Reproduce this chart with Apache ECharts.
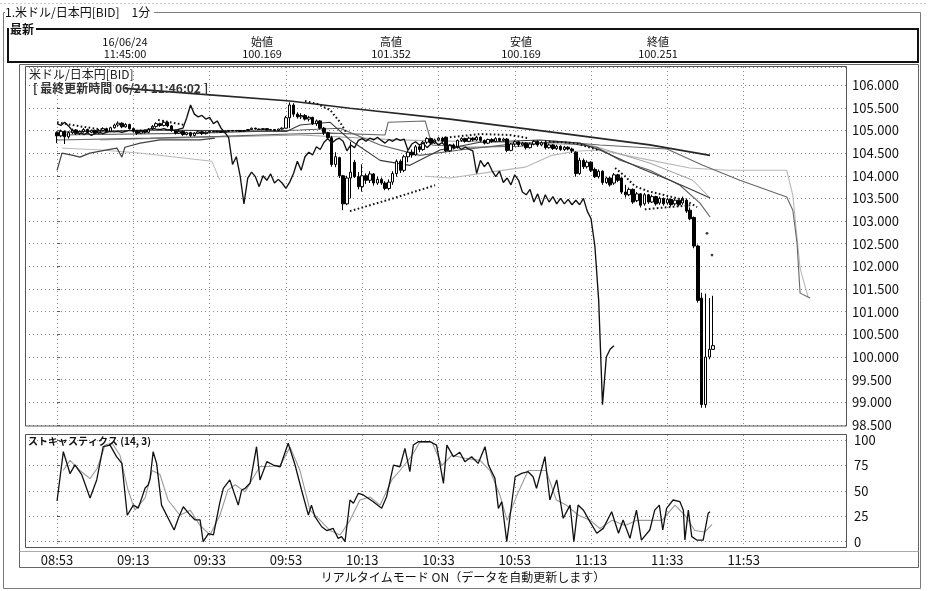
<!DOCTYPE html>
<html><head><meta charset="utf-8">
<script src="https://cdn.jsdelivr.net/npm/echarts@6/dist/echarts.min.js"></script>
<style>html,body{margin:0;padding:0;background:#fff}#c{width:928px;height:591px}</style>
</head><body><div id="c"></div>
<script>
// x values = minutes since 08:53
const timeTicks = [0,20,40,60,80,100,120,140,160,180];
const timeLabels = ['08:53','09:13','09:33','09:53','10:13','10:33','10:53','11:13','11:33','11:53'];
const headerTop = ['16/06/24','始値','高値','安値','終値'];
const headerBottom = ['11:45:00','100.169','101.352','100.169','100.251'];

// one candle per minute from 08:53: [open, close, low, high]
const candles = [
[104.95,104.88,104.72,104.98],[104.88,104.98,104.85,105.02],[104.98,104.86,104.70,105.00],[104.86,104.95,104.82,104.98],
[104.95,105.01,104.92,105.04],[105.01,104.93,104.90,105.03],[104.93,104.98,104.90,105.00],[104.98,105.02,104.95,105.05],
[105.02,104.96,104.93,105.04],[104.96,105.00,104.94,105.02],[105.00,104.94,104.92,105.02],[104.94,105.00,104.92,105.03],
[105.00,105.04,104.98,105.07],[105.04,104.98,104.96,105.06],[104.98,105.06,104.96,105.08],[105.06,105.12,105.04,105.15],
[105.12,105.16,105.08,105.20],[105.16,105.08,105.05,105.18],[105.08,105.13,105.06,105.16],[105.13,105.04,105.02,105.15],
[105.04,104.98,104.95,105.06],[104.98,104.94,104.90,105.00],[104.94,105.00,104.92,105.02],[105.00,104.96,104.93,105.02],
[104.96,105.03,104.94,105.05],[105.03,105.09,105.01,105.12],[105.09,105.15,105.06,105.18],[105.15,105.11,105.08,105.17],
[105.11,105.18,105.09,105.22],[105.18,105.10,105.07,105.20],[105.10,105.00,104.97,105.12],[105.00,104.94,104.91,105.02],
[104.94,104.98,104.92,105.01],[104.98,104.91,104.88,105.00],[104.91,104.95,104.89,104.97],[104.95,104.89,104.86,104.97],
[104.89,104.94,104.87,104.96],[104.94,104.97,104.92,105.00],[104.97,104.93,104.90,104.99],[104.93,104.96,104.91,104.98],
[104.96,104.98,104.94,105.00],[104.98,104.97,104.96,104.99],[104.97,104.98,104.96,104.99],[104.98,104.96,104.95,104.99],
[104.96,104.98,104.95,104.99],[104.98,105.00,104.97,105.01],[105.00,104.99,104.98,105.01],[104.99,105.00,104.98,105.01],
[105.00,104.98,104.97,105.01],[104.98,105.00,104.97,105.01],[105.00,105.02,104.99,105.03],[105.02,105.05,105.01,105.06],
[105.05,105.03,105.02,105.06],[105.03,105.02,105.01,105.04],[105.02,105.04,105.01,105.05],[105.04,105.01,105.00,105.05],
[105.01,105.02,105.00,105.03],[105.02,105.00,104.99,105.03],[105.00,105.03,104.99,105.04],[105.03,105.05,105.02,105.07],
[105.05,105.28,105.04,105.32],[105.28,105.56,105.05,105.62],[105.56,105.36,105.30,105.60],[105.36,105.30,105.26,105.40],
[105.30,105.33,105.25,105.38],[105.33,105.25,105.22,105.36],[105.25,105.29,105.20,105.32],[105.29,105.15,105.12,105.30],
[105.15,105.21,105.10,105.24],[105.21,105.05,105.02,105.23],[105.05,104.95,104.90,105.08],[104.95,104.84,104.80,104.97],
[104.84,104.25,104.20,104.88],[104.25,104.42,104.19,104.52],[104.40,104.00,103.95,104.42],[104.00,103.38,103.24,104.02],
[103.38,103.95,103.35,104.00],[103.95,104.08,103.50,104.75],[104.30,103.98,103.95,104.35],[103.98,103.76,103.70,104.08],
[103.76,104.00,103.65,104.25],[104.00,103.90,103.82,104.05],[103.90,104.04,103.84,104.10],[104.04,103.84,103.78,104.06],
[103.84,103.92,103.80,103.98],[103.92,103.84,103.80,103.96],[103.84,103.72,103.68,103.88],[103.72,103.86,103.68,103.92],
[103.86,104.05,103.80,104.10],[104.05,104.32,103.98,104.36],[104.32,104.12,104.06,104.36],[104.12,104.42,104.08,104.46],
[104.42,104.52,104.30,104.56],[104.52,104.46,104.40,104.58],[104.46,104.64,104.44,104.68],[104.64,104.58,104.52,104.68],
[104.58,104.74,104.55,104.77],[104.74,104.82,104.70,104.85],[104.82,104.72,104.68,104.84],[104.72,104.79,104.70,104.82],
[104.79,104.83,104.76,104.86],[104.83,104.76,104.73,104.86],[104.85,104.55,104.52,104.87],[104.55,104.68,104.52,104.70],
[104.68,104.62,104.58,104.71],[104.62,104.78,104.60,104.80],[104.78,104.82,104.75,104.85],[104.82,104.76,104.73,104.84],
[104.76,104.83,104.74,104.86],[104.83,104.79,104.76,104.85],[104.79,104.85,104.77,104.88],[104.85,104.78,104.75,104.87],
[104.78,104.72,104.69,104.80],[104.72,104.80,104.70,104.82],[104.80,104.76,104.73,104.83],[104.76,104.82,104.74,104.85],
[104.82,104.78,104.75,104.84],[104.78,104.81,104.76,104.84],[104.81,104.56,104.52,104.83],[104.56,104.70,104.54,104.72],
[104.70,104.75,104.66,104.78],[104.75,104.68,104.64,104.77],[104.68,104.72,104.65,104.75],[104.72,104.62,104.58,104.74],
[104.62,104.70,104.60,104.73],[104.70,104.76,104.67,104.79],[104.76,104.68,104.64,104.78],[104.68,104.73,104.65,104.76],
[104.73,104.62,104.58,104.75],[104.62,104.68,104.60,104.71],[104.68,104.60,104.57,104.70],[104.60,104.65,104.57,104.68],
[104.65,104.58,104.55,104.67],[104.58,104.63,104.55,104.66],[104.63,104.59,104.56,104.65],[104.59,104.55,104.50,104.62],
[104.52,104.05,103.98,104.54],[104.05,104.34,104.02,104.40],[104.34,104.20,104.15,104.38],[104.20,104.30,104.16,104.34],
[104.30,104.12,104.08,104.32],[104.14,103.98,103.95,104.18],[103.98,104.10,103.94,104.14],[104.10,103.85,103.80,104.12],
[103.85,103.95,103.82,103.98],[103.95,103.80,103.76,103.98],[103.84,104.02,103.80,104.06],[104.02,103.90,103.86,104.04],
[103.95,103.64,103.60,103.97],[103.64,103.58,103.52,103.80],[103.58,103.70,103.55,103.74],[103.70,103.42,103.38,103.72],
[103.45,103.60,103.42,103.64],[103.60,103.35,103.30,103.62],[103.38,103.58,103.34,103.62],[103.58,103.42,103.38,103.60],
[103.42,103.54,103.40,103.58],[103.54,103.38,103.34,103.56],[103.40,103.50,103.36,103.54],[103.50,103.38,103.34,103.52],
[103.40,103.48,103.36,103.52],[103.48,103.36,103.32,103.50],[103.38,103.46,103.34,103.50],[103.46,103.36,103.32,103.48],
[103.40,103.50,103.36,103.54],[103.46,103.22,103.18,103.50],[103.24,103.05,103.02,103.30],[103.08,102.45,102.40,103.10],
[102.45,101.25,101.20,102.48],[101.30,98.95,98.88,101.42],[98.95,100.00,98.88,101.40],[100.00,100.17,99.95,101.30],
[100.169,100.251,100.169,101.352]
];
const laggingShift = 26;

// indicator lines: [minute, price]
const maLong = [[17.8,105.93],[37.5,105.80],[61.1,105.65],[76.8,105.49],[103.0,105.25],[131.8,104.94],[155.4,104.68],[171.2,104.45]];
const spanA = [[0,104.79],[24.4,104.83],[42.7,104.87],[61.1,104.92],[71.6,104.94],[86.0,104.90],[86.8,105.18],[96.5,105.21],[98.3,104.68],[108.3,104.63],[121.4,104.65],[130.5,104.76],[142.3,104.68],[159.9,104.59],[169.3,104.23],[179.0,103.90],[191.3,103.53],[192.9,103.24],[194.0,102.51],[194.8,101.41],[197.4,101.30]];
const spanBLeft = [[1.3,104.61],[11.3,104.57],[21.8,104.50],[40.6,104.32],[42.7,103.90]];
const spanBRight = [[96.5,103.99],[103.0,103.95],[113.5,104.08],[122.7,104.19],[129.7,104.45],[135.8,104.54],[142.3,104.57],[152.8,104.39],[165.9,104.17],[175.6,104.12],[191.3,104.12],[192.9,103.57],[194.8,101.96],[196.9,101.32]];
const darkLeft = [[0,104.12],[1.3,104.50],[4.2,104.45],[6.0,104.41],[8.6,104.50],[13.1,104.57],[15.7,104.61],[17.0,104.41],[17.8,104.63],[21.8,104.72],[27.0,104.79],[37.5,104.79],[41.4,104.83]];
const ma1 = [[0,104.96],[24.4,105.01],[60.3,104.98],[63.7,105.12],[71.6,105.18],[76.8,104.79],[84.7,104.34],[92.5,104.23],[100.4,104.57],[110.9,104.74],[126.6,104.79],[137.1,104.72],[142.3,104.57],[152.8,104.17],[160.7,103.90],[166.7,103.68],[171.2,103.51]];
const ma2 = [[0,104.90],[37.5,104.94],[63.7,105.01],[74.2,105.05],[84.7,104.68],[95.1,104.45],[105.6,104.57],[121.4,104.72],[131.8,104.74],[141.5,104.63],[147.6,104.34],[155.4,104.12],[163.3,103.79],[168.5,103.40],[171.2,103.09]];
const ma3 = [[11.3,104.79],[63.7,104.90],[89.9,104.79],[116.1,104.74],[139.7,104.68],[155.4,104.28],[166.7,103.90],[171.2,103.51]];
const sarSegments = [
 [[0,105.18],[6.0,105.09],[12.6,105.01]],
 [[26.5,105.23],[33.6,105.12]],
 [[65.0,105.65],[68.4,105.58],[71.6,105.45],[74.2,105.18],[75.8,104.96]],
 [[76.8,103.22],[87.3,103.48],[99.1,103.79]],
 [[103.0,104.85],[110.9,104.92],[118.7,104.90],[123.5,104.83]],
 [[127.9,104.76],[135.8,104.72],[141.8,104.57]],
 [[146.3,104.17],[148.9,103.99],[151.5,103.77],[154.9,103.66],[159.4,103.57],[164.6,103.46],[167.8,103.31]],
 [[154.1,103.26],[160.7,103.31],[166.4,103.35]]
];
const sarDots = [[170.4,102.73],[171.7,102.25]];

// stochastics (14,3): [minute, value]
const stochK = [[0,40],[1.65,88.5],[3.4,67],[4.7,75.5],[6.5,65.6],[8.65,43],[10.4,60.7],[12.1,93.4],[13.9,95],[15.6,83.6],[17.0,77],[18.4,26],[20.0,36],[21.3,33],[23.1,52.8],[23.9,55.7],[24.4,62],[25.2,88.5],[26.1,77],[27.4,36],[30.7,11.5],[31.8,23],[33.1,34.4],[34.9,26.2],[36.2,21.4],[37.5,21.4],[38.3,0],[39.7,8],[41.0,6.6],[42.7,39],[43.6,52.5],[45.3,60.7],[47.5,36],[48.4,50.8],[49.3,52.5],[50.6,57.4],[52.3,93.4],[53.2,60.7],[55.0,78.7],[56.7,75.4],[58.5,73.7],[60.6,96.8],[62.4,75.4],[64.1,50.8],[65.9,26.2],[66.7,36],[67.6,24.6],[69.4,14.7],[70.7,11],[72.4,13],[73.7,3.3],[74.6,5],[75.5,0],[76.8,41],[77.7,37.8],[79.0,47.6],[80.3,46],[82.9,39.3],[85.1,32.8],[86.4,44.2],[88.2,75.4],[89.9,73.7],[91.2,91.8],[92.5,68.8],[93.4,95],[94.7,98.3],[97.8,98.3],[99.5,95],[101.3,57.4],[102.2,95],[103.9,83.6],[105.6,88],[106.9,78.7],[108.7,83.6],[110.4,77],[112.2,93.4],[113.1,75.4],[114.8,62.3],[115.7,32.8],[116.6,39.3],[117.9,0],[120.1,63.9],[121.8,67.2],[123.5,68.8],[124.8,63.9],[125.7,52.5],[127.9,83.6],[129.2,41],[131.0,60.7],[132.7,23],[134.5,36],[135.5,0],[136.6,36],[138.0,31],[139.7,19.7],[141.5,8.3],[143.2,13.1],[145.4,29.5],[147.2,8.3],[148.4,21.4],[150.2,3.3],[151.9,31],[153.2,1.6],[155.4,11.5],[156.7,31],[157.9,36],[158.8,11.5],[159.8,32.8],[161.5,41],[163.3,39.3],[164.2,31],[164.6,1.6],[165.5,31],[166.4,5],[167.7,1.6],[169.4,1.6],[170.7,27.9],[171.2,29.5]];
const stochD = [[1.6,70],[3.4,80],[6.0,70],[8.65,62],[10.5,72],[12.6,95],[14.4,97],[16.5,85],[18.6,51],[20.4,31],[23.1,43],[24.9,70],[27.0,66],[29.1,41],[32.2,26],[34.9,31],[37.5,16],[40.1,6.6],[42.7,26],[44.8,51],[46.7,56],[49.3,49],[51.1,61],[53.2,74],[55.8,74],[58.5,75],[61.1,93],[63.7,70],[66.3,31],[69.0,21],[71.6,11],[74.2,6.6],[76.8,21],[79.4,41],[82.0,44],[84.7,36],[87.8,61],[89.9,70],[93.1,85],[95.1,98],[98.3,98],[100.9,75],[103.5,85],[106.9,82],[110.9,80],[113.5,70],[116.1,46],[118.0,21],[120.6,46],[123.5,70],[125.8,70],[128.2,70],[130.9,41],[133.5,36],[136.7,26],[139.8,21],[142.3,13],[145.5,21],[148.9,16],[152.0,21],[155.4,21],[158.6,21],[162.0,36],[164.6,26],[167.2,11],[169.8,9.5],[171.7,17]];

const FONT = '"Noto Sans CJK JP", "DejaVu Sans", sans-serif';
const candleData = candles.map((c, i) => [i, c[0], c[1], c[2], c[3]]);
const lagging = candles.map((c, i) => [i - laggingShift, c[1]]).filter(p => p[0] >= 0);

const gridLine = {show: true, lineStyle: {color: '#8a8a8a', width: 1, type: [1, 3]}};
function xAxis(gi, labels, split) {
  return {
    type: 'value', gridIndex: gi, min: -8.4, max: 207.1,
    axisLine: {show: false},
    axisTick: {show: false, customValues: timeTicks},
    axisLabel: {show: labels, customValues: timeTicks, margin: 6, fontSize: 13, color: '#111', fontFamily: FONT,
      formatter: v => { const k = timeTicks.indexOf(v); return k >= 0 ? timeLabels[k] : ''; }},
    splitLine: split ? gridLine : {show: false}
  };
}
function line(data, color, width, z, extra) {
  return Object.assign({type: 'line', xAxisIndex: 0, yAxisIndex: 0, data, showSymbol: false, symbol: 'none',
    lineStyle: {color, width}, z: z, silent: true}, extra || {});
}

const series = [
  line(spanBLeft, '#b8b8b8', 1, 2),
  line(spanBRight, '#b8b8b8', 1.1, 2),
  line(ma3, '#a0a0a0', 1, 2),
  line(spanA, '#666', 1.1, 2),
  line(ma2, '#606060', 1.1, 2),
  line(ma1, '#383838', 1.1, 2),
  line(darkLeft, '#404040', 1.2, 2),
  line(maLong, '#262626', 1.7, 2),
  {type: 'candlestick', xAxisIndex: 0, yAxisIndex: 0, data: candleData, encode: {x: 0, y: [1, 2, 3, 4]},
   barWidth: 3, z: 3, silent: true,
   itemStyle: {color: '#fff', color0: '#000', borderColor: '#000', borderColor0: '#000', borderWidth: 1}},
  line(lagging, '#111', 1.35, 4),
];
sarSegments.forEach(seg => series.push(line(seg, '#111', 2, 4, {lineStyle: {color: '#111', width: 2, type: [1.6, 2.4]}})));
series.push({type: 'scatter', xAxisIndex: 0, yAxisIndex: 0, data: sarDots, symbolSize: 2.8, itemStyle: {color: '#111'}, z: 4, silent: true});
series.push({type: 'line', xAxisIndex: 1, yAxisIndex: 1, data: stochD, showSymbol: false, symbol: 'none', clip: false, lineStyle: {color: '#9a9a9a', width: 1.1}, z: 2, silent: true});
series.push({type: 'line', xAxisIndex: 1, yAxisIndex: 1, data: stochK, showSymbol: false, symbol: 'none', clip: false, lineStyle: {color: '#111', width: 1.3}, z: 3, silent: true});

const graphic = [
  {type: 'line', shape: {x1: 0, y1: 3.5, x2: 928, y2: 3.5}, style: {stroke: '#c8c8c8', lineWidth: 1, lineDash: [2, 2]}, z: 0},
  {type: 'rect', shape: {x: 3.5, y: 12.5, width: 917, height: 576}, style: {fill: null, stroke: '#7a7a7a', lineWidth: 1}, z: 0},
  {type: 'text', x: 5, y: 12, style: {text: '1.米ドル/日本円[BID]　1分', font: '12px ' + FONT, fill: '#111', verticalAlign: 'middle', backgroundColor: '#fff', padding: [0, 4, 0, 0]}, z: 1},
  {type: 'rect', shape: {x: 8, y: 29, width: 910, height: 33}, style: {fill: null, stroke: '#111', lineWidth: 2}, z: 0},
  {type: 'text', x: 9, y: 29, style: {text: '最新', font: 'bold 12px ' + FONT, fill: '#111', verticalAlign: 'middle', backgroundColor: '#fff', padding: [0, 2, 0, 1]}, z: 1},
  {type: 'rect', shape: {x: 19.5, y: 64.5, width: 899, height: 503}, style: {fill: null, stroke: '#666', lineWidth: 1}, z: 0},
  {type: 'rect', shape: {x: 25.5, y: 66.5, width: 821, height: 359.5}, style: {fill: null, stroke: '#555', lineWidth: 1}, z: 5},
  {type: 'rect', shape: {x: 25.5, y: 434.5, width: 821, height: 113}, style: {fill: null, stroke: '#555', lineWidth: 1}, z: 5},
  {type: 'line', shape: {x1: 19.5, y1: 551.5, x2: 918.5, y2: 551.5}, style: {stroke: '#aaa', lineWidth: 1}, z: 0},
  {type: 'text', x: 29, y: 74, style: {text: '米ドル/日本円[BID]', font: '12px ' + FONT, fill: '#222', verticalAlign: 'middle'}, z: 6},
  {type: 'text', x: 33, y: 88, style: {text: '[ 最終更新時間 06/24 11:46:02 ]', font: 'bold 12px ' + FONT, fill: '#333', verticalAlign: 'middle'}, z: 6},
  {type: 'text', x: 28, y: 441, style: {text: 'ストキャスティクス (14, 3)', font: 'bold 10px ' + FONT, fill: '#111', verticalAlign: 'middle'}, z: 6},
  {type: 'text', x: 463, y: 577, style: {text: 'リアルタイムモード ON（データを自動更新します）', font: '12px ' + FONT, fill: '#111', align: 'center', verticalAlign: 'middle'}, z: 6}
];
const headerX = [125, 262, 391, 521, 658];
headerX.forEach((x, k) => {
  graphic.push({type: 'text', x, y: 42, style: {text: headerTop[k], font: '11px ' + FONT, fill: '#111', align: 'center', verticalAlign: 'middle'}});
  graphic.push({type: 'text', x, y: 54, style: {text: headerBottom[k], font: '11px ' + FONT, fill: '#111', align: 'center', verticalAlign: 'middle'}});
});

const option = {
  animation: false,
  backgroundColor: '#fff',
  grid: [
    {left: 25, top: 67, width: 822, height: 358},
    {left: 25, top: 440, width: 822, height: 101.7},
    {left: 25, top: 435, width: 822, height: 113}
  ],
  xAxis: [xAxis(0, false, true), xAxis(1, false, false), xAxis(2, true, true)],
  yAxis: [
    {type: 'value', gridIndex: 0, position: 'right', min: 98.5, max: 106.4, interval: 0.5,
     axisLine: {show: false}, axisTick: {show: true, length: 3, lineStyle: {color: '#555'}},
     axisLabel: {margin: 5, fontSize: 13, color: '#111', fontFamily: FONT, showMaxLabel: false,
       formatter: v => v > 106.01 ? '' : v.toFixed(3)},
     splitLine: gridLine},
    {type: 'value', gridIndex: 1, position: 'right', min: 0, max: 100, interval: 25,
     axisLine: {show: false}, axisTick: {show: true, length: 3, lineStyle: {color: '#555'}},
     axisLabel: {margin: 7, fontSize: 13, color: '#111', fontFamily: FONT},
     splitLine: gridLine},
    {type: 'value', gridIndex: 2, min: 0, max: 1, show: false, splitLine: {show: false}}
  ],
  graphic,
  series
};
const chart = echarts.init(document.getElementById('c'), null, {renderer: 'canvas'});
chart.setOption(option);
</script>
</body></html>
